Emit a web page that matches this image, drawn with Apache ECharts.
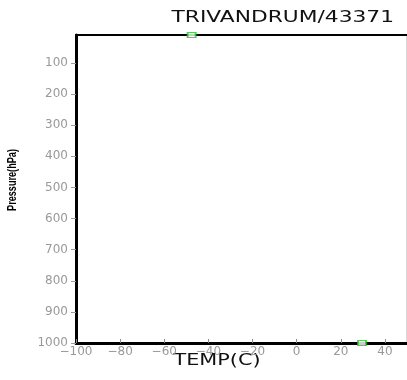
<!DOCTYPE html>
<html>
<head>
<meta charset="utf-8">
<script src="https://cdn.jsdelivr.net/npm/echarts@6/dist/echarts.min.js"></script>
<style>
    html, body { margin: 0; padding: 0; background: #fff; }
    #skewt { width: 407px; height: 380px; }
</style>
</head>
<body>
<div id="skewt"></div>
<script>
// sounding values
let stationName = 'TRIVANDRUM/43371';
let tempObs = [-47.6, 29.6];       // TEMP(C)
let pressObs = [10, 1000];          // hPa
let tempTicks = [-100, -80, -60, -40, -20, 0, 20, 40];
let pressTicks = [100, 200, 300, 400, 500, 600, 700, 800, 900, 1000];

(function () {
    let chartDom = document.getElementById('skewt');
    let myChart = echarts.init(chartDom);

    let points = tempObs.map((t, i) => [t, pressObs[i]]);
    let labelFont = {
        color: '#999',
        fontSize: 12,
        fontFamily: 'DejaVu Sans'
    };

    let option = {
        animation: false,
        backgroundColor: '#fff',
        grid: {
            left: 76,
            right: 0,
            top: 35,
            bottom: 37,
            show: true,
            borderColor: '#b0b0b0',
            borderWidth: 1
        },
        xAxis: [
            {
                type: 'value',
                min: -100,
                max: 50,
                interval: 10,
                splitLine: {show: false},
                axisLine: {onZero: false, lineStyle: {color: '#000', width: 3}},
                axisTick: {
                    inside: true,
                    length: 4,
                    customValues: tempTicks,
                    lineStyle: {color: '#888'}
                },
                axisLabel: Object.assign({
                    margin: 3,
                    customValues: tempTicks,
                    formatter: function (v) {
                        return String(v).replace('-', '\u2212');
                    }
                }, labelFont)
            },
            {
                type: 'value',
                position: 'top',
                min: -100,
                max: 50,
                splitLine: {show: false},
                axisLine: {onZero: false, lineStyle: {color: '#000', width: 2}},
                axisTick: {show: false},
                axisLabel: {show: false}
            }
        ],
        yAxis: {
            type: 'value',
            inverse: true,
            min: 10,
            max: 1000,
            splitLine: {show: false},
            axisLine: {show: true, onZero: false, lineStyle: {color: '#000', width: 3}},
            axisTick: {
                length: 5,
                customValues: pressTicks,
                lineStyle: {color: '#999'}
            },
            axisLabel: Object.assign({
                margin: 8,
                customValues: pressTicks,
                formatter: function (v) {
                    return String(v);
                }
            }, labelFont)
        },
        graphic: [
            {
                type: 'text',
                x: 394,
                y: 18,
                scaleX: 1.45,
                style: {
                    text: stationName,
                    fill: '#111',
                    font: '15px "DejaVu Sans"',
                    textAlign: 'right',
                    textVerticalAlign: 'middle'
                }
            },
            {
                type: 'text',
                x: 217,
                y: 361,
                scaleX: 1.3,
                style: {
                    text: 'TEMP(C)',
                    fill: '#111',
                    font: '16px "DejaVu Sans"',
                    textAlign: 'center',
                    textVerticalAlign: 'middle'
                }
            },
            {
                type: 'text',
                x: 13,
                y: 180,
                rotation: Math.PI / 2,
                scaleX: 0.76,
                style: {
                    text: 'Pressure(hPa)',
                    fill: '#000',
                    font: 'bold 12px "Liberation Sans"',
                    textAlign: 'center',
                    textVerticalAlign: 'middle'
                }
            }
        ],
        series: [
            {
                type: 'scatter',
                data: points,
                clip: false,
                symbol: 'rect',
                symbolSize: [8, 5],
                itemStyle: {
                    color: '#fff',
                    borderColor: '#22c322',
                    borderWidth: 1.5
                },
                z: 5
            }
        ]
    };
    option && myChart.setOption(option);
})();
</script>
</body>
</html>
